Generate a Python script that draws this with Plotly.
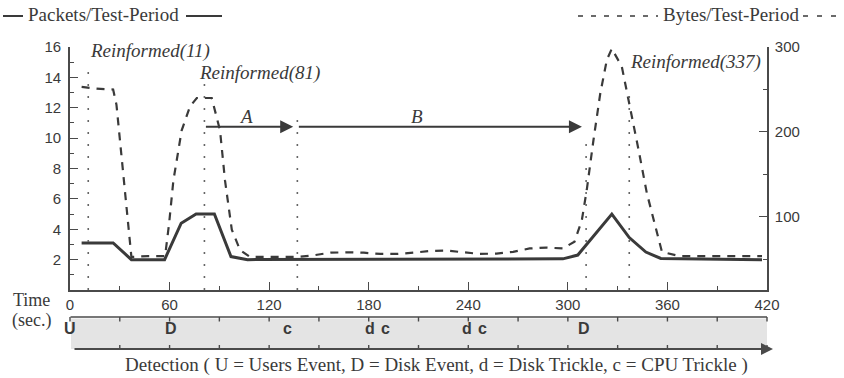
import plotly.graph_objects as go

# ---------------- data ----------------
packet_time = [7, 26, 37, 57, 67, 76, 87, 97, 107, 297, 306, 326.5, 337, 347, 356, 417]
packet_vals = [3.1, 3.1, 2.0, 2.0, 4.4, 5.0, 5.0, 2.2, 2.0, 2.05, 2.3, 5.0, 3.45, 2.5, 2.08, 2.0]

bytes_time = [7, 16, 26, 28, 37, 47, 57.3, 59.7, 62.3, 67.3, 72.3, 76.4, 85.4, 90.4, 93.4,
              97.5, 102.5, 108.5, 118, 128, 137, 147, 157, 167, 177, 187, 197, 207, 217,
              227, 237, 247, 257, 267, 277, 287, 297, 304, 308.4, 311.4, 315.4, 319.5,
              323.5, 326.5, 332.5, 337.5, 342.6, 347.6, 352.6, 356.7, 367, 377, 387, 397,
              407, 417]
bytes_vals = [253, 251, 250, 232, 53, 54, 54, 92, 143, 202, 230, 240, 240, 202, 143,
              85, 61, 53, 53, 53, 53, 55, 58, 58.5, 58, 56.5, 56.5, 58, 60,
              60.5, 58.5, 56.5, 57, 59, 63, 64, 63, 71, 96, 132, 190, 245,
              285, 298, 277, 230, 179, 128, 89, 59, 54, 54, 54, 54,
              54, 54]

xtick_vals = [0, 60, 120, 180, 240, 300, 360, 420]
left_ticks = [2, 4, 6, 8, 10, 12, 14, 16]
right_ticks = [100, 200, 300]

reinforce_times = [11, 81, 337]
reinforce_labels = ["Reinformed(11)", "Reinformed(81)", "Reinformed(337)"]
phase_edges = [81, 137, 311]
phase_labels = ["A", "B"]

detect_times = [0, 61, 131, 180.5, 190, 239, 248.5, 310]
detect_labels = ["U", "D", "c", "d", "c", "d", "c", "D"]

caption = "Detection ( U = Users Event, D = Disk Event, d = Disk Trickle, c = CPU Trickle )"

# ---------------- styling ----------------
INK = "#3a3a3a"
AX = "#4a4a4a"
SERIF = "Liberation Serif"
SANS = "Liberation Sans"
OFF = 0                      # body margin removed by post_script below
W, H = 844 - OFF, 378 - OFF
ML, MR, MT, MB = 70 - OFF, 77, 47 - OFF, 88
PW, PH = W - ML - MR, H - MT - MB


def px(xpage):
    return (xpage - OFF - ML) / PW


def py(ypage):
    return (H - MB - (ypage - OFF)) / PH


fig = go.Figure()
fig.add_trace(go.Scatter(x=bytes_time, y=bytes_vals, yaxis="y2", mode="lines",
                         line=dict(color=INK, width=2.2, dash="8px,7px"),
                         name="Bytes/Test-Period", hoverinfo="skip"))
fig.add_trace(go.Scatter(x=packet_time, y=packet_vals, mode="lines",
                         line=dict(color=INK, width=3),
                         name="Packets/Test-Period", hoverinfo="skip"))

shapes = []
annotations = []


def text(x, y, s, size=19, family=SERIF, xref="paper", yref="paper", xanchor="center",
         style="normal"):
    annotations.append(dict(x=x, y=y, xref=xref, yref=yref, text=s, showarrow=False,
                            xanchor=xanchor, yanchor="middle",
                            font=dict(family=family, size=size, color=INK, style=style)))


# dotted vertical markers
tops = {11: 14.5, 81: 13.6, 137: 11.2, 311: 10.2, 337: 13.3}
for t in sorted(set(reinforce_times + phase_edges[1:])):
    shapes.append(dict(type="line", xref="x", yref="y", x0=t, x1=t, y0=0, y1=tops[t],
                       line=dict(color="#666", width=1.6, dash="2px,10px")))

# reinforcement labels
lab_pos = {11: (-0.3, 15.72), 81: (-4.5, 14.3), 337: (-0.8, 15.0)}
for t, lab in zip(reinforce_times, reinforce_labels):
    dx, yv = lab_pos[t]
    text(t + dx, yv, lab, xref="x", yref="y", xanchor="left", style="italic")

# phase arrows A and B
arrow_y = 10.75
for i, lab in enumerate(phase_labels):
    x0, x1 = phase_edges[i], phase_edges[i + 1]
    annotations.append(dict(x=x1 - 2.5, y=arrow_y, ax=x0, ay=arrow_y, xref="x", yref="y",
                            axref="x", ayref="y", text="", showarrow=True, arrowhead=2,
                            arrowsize=1.3, arrowwidth=2, arrowcolor=INK, standoff=0,
                            startstandoff=0))
    text((x0 + x1) / 2 - (3 if i == 0 else 15), 11.45, lab, xref="x", yref="y", style="italic")

# legend-like header
ly = py(16)
shapes.append(dict(type="line", xref="paper", yref="paper", x0=px(3), x1=px(23), y0=ly, y1=ly,
                   line=dict(color=INK, width=2)))
text(px(26), py(15), "Packets/Test-Period", xanchor="left")
shapes.append(dict(type="line", xref="paper", yref="paper", x0=px(186), x1=px(222), y0=ly, y1=ly,
                   line=dict(color=INK, width=2)))
shapes.append(dict(type="line", xref="paper", yref="paper", x0=px(578), x1=px(658), y0=ly, y1=ly,
                   line=dict(color=INK, width=1.6, dash="5px,8px")))
text(px(661), py(15), "Bytes/Test-Period", xanchor="left")
shapes.append(dict(type="line", xref="paper", yref="paper", x0=px(803), x1=px(842), y0=ly, y1=ly,
                   line=dict(color=INK, width=1.6, dash="5px,9px")))

# "Time (sec.)"
text(px(31), py(300), "Time", size=18)
text(px(31), py(320), "(sec.)", size=18)

# detection band
band_top, band_bot = py(317), py(349)
shapes.append(dict(type="rect", xref="paper", yref="paper", x0=px(71), x1=px(767),
                   y0=band_bot, y1=py(318.5), fillcolor="#e4e4e4", line=dict(width=0), layer="below"))
shapes.append(dict(type="line", xref="paper", yref="paper", x0=px(70.5), x1=px(767), y0=band_top,
                   y1=band_top, line=dict(color=AX, width=1.6)))
for t in range(0, 421, 30):
    xp = px(70 + t * PW / 420)
    shapes.append(dict(type="line", xref="paper", yref="paper", x0=xp, x1=xp, y0=band_top,
                       y1=py(321.5), line=dict(color=AX, width=1.4)))
    if 0 < t:
        shapes.append(dict(type="line", xref="paper", yref="paper", x0=xp, x1=xp, y0=band_bot,
                           y1=py(345), line=dict(color=AX, width=1.4)))
annotations.append(dict(x=px(773), y=band_bot, ax=-700, ay=0, xref="paper", yref="paper",
                        axref="pixel", ayref="pixel", text="", showarrow=True, arrowhead=2,
                        arrowsize=1.2, arrowwidth=2, arrowcolor=AX, standoff=0))
for t, lab in zip(detect_times, detect_labels):
    text(t, py(328), "<b>%s</b>" % lab, size=16, family=SANS, xref="x")
text(px(437), py(365), caption)

axis_common = dict(showgrid=False, zeroline=False, showline=True, linecolor=AX, linewidth=1.6,
                   ticks="inside", tickcolor=AX, tickwidth=1.4, ticklen=8, automargin=False,
                   tickfont=dict(family=SANS, size=15, color=INK))

fig.update_layout(
    width=W, height=H, margin=dict(l=ML, r=MR, t=MT, b=MB),
    plot_bgcolor="white", paper_bgcolor="white", showlegend=False,
    xaxis=dict(range=[0, 420], tickvals=xtick_vals, ticklabelstandoff=0,
               minor=dict(dtick=30, tick0=0, ticks="inside", ticklen=4, tickcolor=AX, tickwidth=1.2),
               **axis_common),
    yaxis=dict(range=[0, 16], tickvals=left_ticks, ticklabelstandoff=4,
               minor=dict(dtick=1, tick0=0, ticks="inside", ticklen=4, tickcolor=AX, tickwidth=1.2),
               **axis_common),
    yaxis2=dict(range=[14.1, 300], tickvals=right_ticks, overlaying="y", side="right",
                ticklabelstandoff=3,
                minor=dict(dtick=50, tick0=0, ticks="inside", ticklen=4, tickcolor=AX, tickwidth=1.2),
                **axis_common),
    shapes=shapes, annotations=annotations,
)

fig.write_html("out.html", config={"displayModeBar": False},
               post_script="document.body.style.margin='0px';document.body.style.overflow='hidden';")
